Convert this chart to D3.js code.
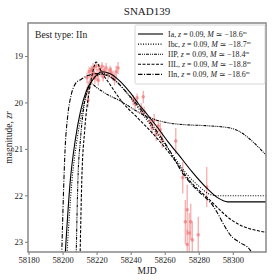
<!DOCTYPE html>
<html>
<head>
<meta charset="utf-8">
<script src="https://cdn.jsdelivr.net/npm/d3@7"></script>
<style>
  body { margin: 0; background: #fff; }
  text { font-family: "Liberation Serif", "DejaVu Serif", serif; }
</style>
</head>
<body>
<svg id="chart" width="280" height="280"></svg>
<script>
// model light curves, [mjd, magnitude]
var curveIa = [[58201.5, 23.3], [58204.5, 21.7], [58207.5, 20.8], [58210.5, 20.2], [58214, 19.75], [58218, 19.5],
  [58223, 19.34], [58228, 19.38], [58234, 19.55], [58240, 19.8], [58245, 20.05], [58250, 20.27], [58256, 20.55],
  [58262, 20.85], [58268, 21.12], [58276, 21.49], [58284, 21.82], [58291, 22.05], [58297, 22.14], [58320, 22.14]];
var curveIbc = [[58202.5, 23.3], [58205.5, 21.7], [58208.5, 20.8], [58211.5, 20.2], [58215, 19.7], [58219, 19.45],
  [58224, 19.38], [58230, 19.5], [58236, 19.72], [58242, 20.0], [58248, 20.3], [58254, 20.6], [58260, 20.9],
  [58266, 21.2], [58272, 21.5], [58280, 21.8], [58286, 21.97], [58291, 22.01], [58320, 22.01]];
var curveIIP = [[58208, 23.3], [58209, 21.7], [58210.5, 20.8], [58212.5, 20.1], [58215, 19.7], [58217, 19.6],
  [58220, 19.68], [58225, 19.8], [58235, 19.99], [58245, 20.22], [58252, 20.34], [58262, 20.44], [58272, 20.48],
  [58284, 20.5], [58298.5, 20.55], [58320, 21.15]];
var curveIIL = [[58210.3, 23.3], [58211.3, 21.67], [58213, 20.6], [58215.5, 19.8], [58218, 19.3], [58219.7, 19.13],
  [58223, 19.35], [58228, 19.62], [58235, 19.99], [58244, 20.33], [58255, 20.75], [58265, 21.2], [58275, 21.7],
  [58285, 22.05], [58300, 22.55], [58320, 22.8]];
var curveIIn = [[58199.5, 23.3], [58200.5, 22.0], [58201.5, 21.0], [58203, 20.3], [58205, 19.85], [58207.5, 19.6],
  [58211, 19.5], [58215, 19.42], [58219, 19.38], [58224, 19.4], [58230, 19.5], [58238, 19.8], [58246, 20.15],
  [58254, 20.55], [58262, 20.98], [58271, 21.55], [58280, 21.92], [58287, 22.16], [58300, 22.91], [58304.4, 23.02],
  [58310, 23.17], [58312, 23.3]];

// observations: mjd, magnitude, error
var obsMjd = [58214.4, 58215.0, 58215.6, 58216.2, 58216.8, 58217.4, 58217.9, 58218.5, 58219.7, 58220.3,
  58221.5, 58222.6, 58223.2, 58224.4, 58225.6, 58226.8, 58227.9, 58229.7, 58231.5, 58232.6, 58215.0,
  58219.0, 58221.0, 58223.8, 58228.5, 58230.6,
  58241.5, 58242.6, 58243.8, 58247.4, 58246.2, 58247.9, 58251.5, 58252.6, 58253.8, 58255.0, 58256.2,
  58257.4, 58258.5, 58266.5, 58270.6, 58284.7, 58272.1, 58273.2, 58274.4, 58275.3, 58276.2, 58279.7, 58273.2];
var obsMag = [19.47, 19.69, 19.34, 19.56, 19.30, 19.43, 19.26, 19.37, 19.22, 19.41,
  19.28, 19.34, 19.22, 19.32, 19.26, 19.39, 19.30, 19.43, 19.34, 19.26, 19.95,
  19.48, 19.52, 19.45, 19.36, 19.50,
  19.95, 20.03, 19.90, 19.88, 20.12, 20.20, 20.42, 20.55, 20.38, 20.68, 20.51,
  20.59, 20.81, 20.83, 21.62, 21.82, 22.57, 22.31, 22.81, 22.57, 22.96, 22.85, 23.06];
var obsErr = [0.11, 0.13, 0.11, 0.13, 0.09, 0.11, 0.11, 0.11, 0.09, 0.13,
  0.11, 0.11, 0.09, 0.11, 0.11, 0.11, 0.09, 0.11, 0.13, 0.13, 0.15,
  0.12, 0.12, 0.1, 0.12, 0.13,
  0.11, 0.11, 0.09, 0.13, 0.11, 0.11, 0.11, 0.13, 0.13, 0.15, 0.13,
  0.15, 0.17, 0.28, 0.34, 0.43, 0.47, 0.54, 0.43, 0.39, 0.39, 0.39, 0.32];

var models = [
  { name: "Ia", mag: "18.6", data: curveIa, dash: null },
  { name: "Ibc", mag: "18.7", data: curveIbc, dash: "1,1.5" },
  { name: "IIP", mag: "18.4", data: curveIIP, dash: "3,1,1,1,1,1" },
  { name: "IIL", mag: "18.8", data: curveIIL, dash: "3,1.5" },
  { name: "IIn", mag: "18.6", data: curveIIn, dash: "4.5,1.5,1,1.5" }
];
var xTicks = [58180, 58200, 58220, 58240, 58260, 58280, 58300];
var yTicks = [19, 20, 21, 22, 23];

var svg = d3.select("#chart");
var pLeft = 28, pRight = 266, pTop = 23, pBottom = 252;

var x = d3.scaleLinear().domain([58179.7, 58319.5]).range([pLeft, pRight]);
var y = d3.scaleLinear().domain([18.29, 23.22]).range([pTop, pBottom]);

svg.append("defs").append("clipPath").attr("id", "clip")
  .append("rect").attr("x", pLeft).attr("y", pTop).attr("width", pRight - pLeft).attr("height", pBottom - pTop);

var plot = svg.append("g").attr("clip-path", "url(#clip)");

// observations
var obs = obsMjd.map(function (d, i) { return { t: d, m: obsMag[i], e: obsErr[i] }; });
plot.selectAll("line.err").data(obs).enter().append("line")
  .attr("x1", function (d) { return x(d.t); })
  .attr("x2", function (d) { return x(d.t); })
  .attr("y1", function (d) { return y(d.m - d.e); })
  .attr("y2", function (d) { return y(d.m + d.e); })
  .attr("stroke", "#f06868").attr("stroke-opacity", 0.55).attr("stroke-width", 1.3);
plot.selectAll("circle.pt").data(obs).enter().append("circle")
  .attr("cx", function (d) { return x(d.t); })
  .attr("cy", function (d) { return y(d.m); })
  .attr("r", 1.8)
  .attr("fill", "#f06868").attr("fill-opacity", 0.6);

// model curves
var line = d3.line().x(function (d) { return x(d[0]); }).y(function (d) { return y(d[1]); })
  .curve(d3.curveMonotoneX);
models.forEach(function (mdl) {
  plot.append("path").datum(mdl.data)
    .attr("d", line)
    .attr("fill", "none").attr("stroke", "#000").attr("stroke-width", 1.1)
    .attr("stroke-dasharray", mdl.dash);
});

// axes
var xAxis = svg.append("g").attr("transform", "translate(0," + pBottom + ")")
  .call(d3.axisBottom(x).tickValues(xTicks).tickSize(3).tickPadding(2).tickFormat(d3.format("d")));
var yAxis = svg.append("g").attr("transform", "translate(" + pLeft + ",0)")
  .call(d3.axisLeft(y).tickValues(yTicks).tickSize(3).tickPadding(2).tickFormat(d3.format("d")));
[xAxis, yAxis].forEach(function (a) {
  a.select(".domain").remove();
  a.selectAll("line").attr("stroke", "#555").attr("stroke-width", 0.8);
  a.selectAll("text").attr("font-family", "Liberation Serif").attr("font-size", 8.5).attr("fill", "#222");
});

svg.append("rect").attr("x", pLeft).attr("y", pTop).attr("width", pRight - pLeft).attr("height", pBottom - pTop)
  .attr("fill", "none").attr("stroke", "#888").attr("stroke-width", 1.5);

// texts
svg.append("text").attr("x", (pLeft + pRight) / 2).attr("y", 15).attr("text-anchor", "middle")
  .attr("font-size", 11).attr("fill", "#222").text("SNAD139");
svg.append("text").attr("x", (pLeft + pRight) / 2).attr("y", 274).attr("text-anchor", "middle")
  .attr("font-size", 9.5).attr("fill", "#222").text("MJD");
var yl = svg.append("text").attr("transform", "translate(12," + ((pTop + pBottom) / 2) + ") rotate(-90)")
  .attr("text-anchor", "middle").attr("font-size", 9.5).attr("fill", "#222");
yl.append("tspan").text("magnitude, ");
yl.append("tspan").attr("font-style", "italic").text("zr");

svg.append("text").attr("x", 35).attr("y", 38).attr("font-size", 9.6).attr("fill", "#222").text("Best type: IIn");

// legend
var lg = svg.append("g");
lg.append("rect").attr("x", 135).attr("y", 25).attr("width", 130).attr("height", 59).attr("rx", 1.5)
  .attr("fill", "#fff").attr("fill-opacity", 0.85).attr("stroke", "#ccc").attr("stroke-width", 0.8);
models.forEach(function (mdl, i) {
  var ly = 34 + i * 10.1;
  lg.append("line").attr("x1", 138).attr("x2", 163).attr("y1", ly).attr("y2", ly)
    .attr("stroke", "#000").attr("stroke-width", 1.1).attr("stroke-dasharray", mdl.dash);
  var t = lg.append("text").attr("x", 168).attr("y", ly + 2.7).attr("font-size", 7.9).attr("fill", "#222");
  t.append("tspan").text(mdl.name + ", ");
  t.append("tspan").attr("font-style", "italic").text("z");
  t.append("tspan").text(" = 0.09, ");
  t.append("tspan").attr("font-style", "italic").text("M");
  t.append("tspan").text(" \u2243 \u2212" + mdl.mag);
  t.append("tspan").attr("font-size", 5).attr("dy", -3).text("m");
});
</script>
</body>
</html>
